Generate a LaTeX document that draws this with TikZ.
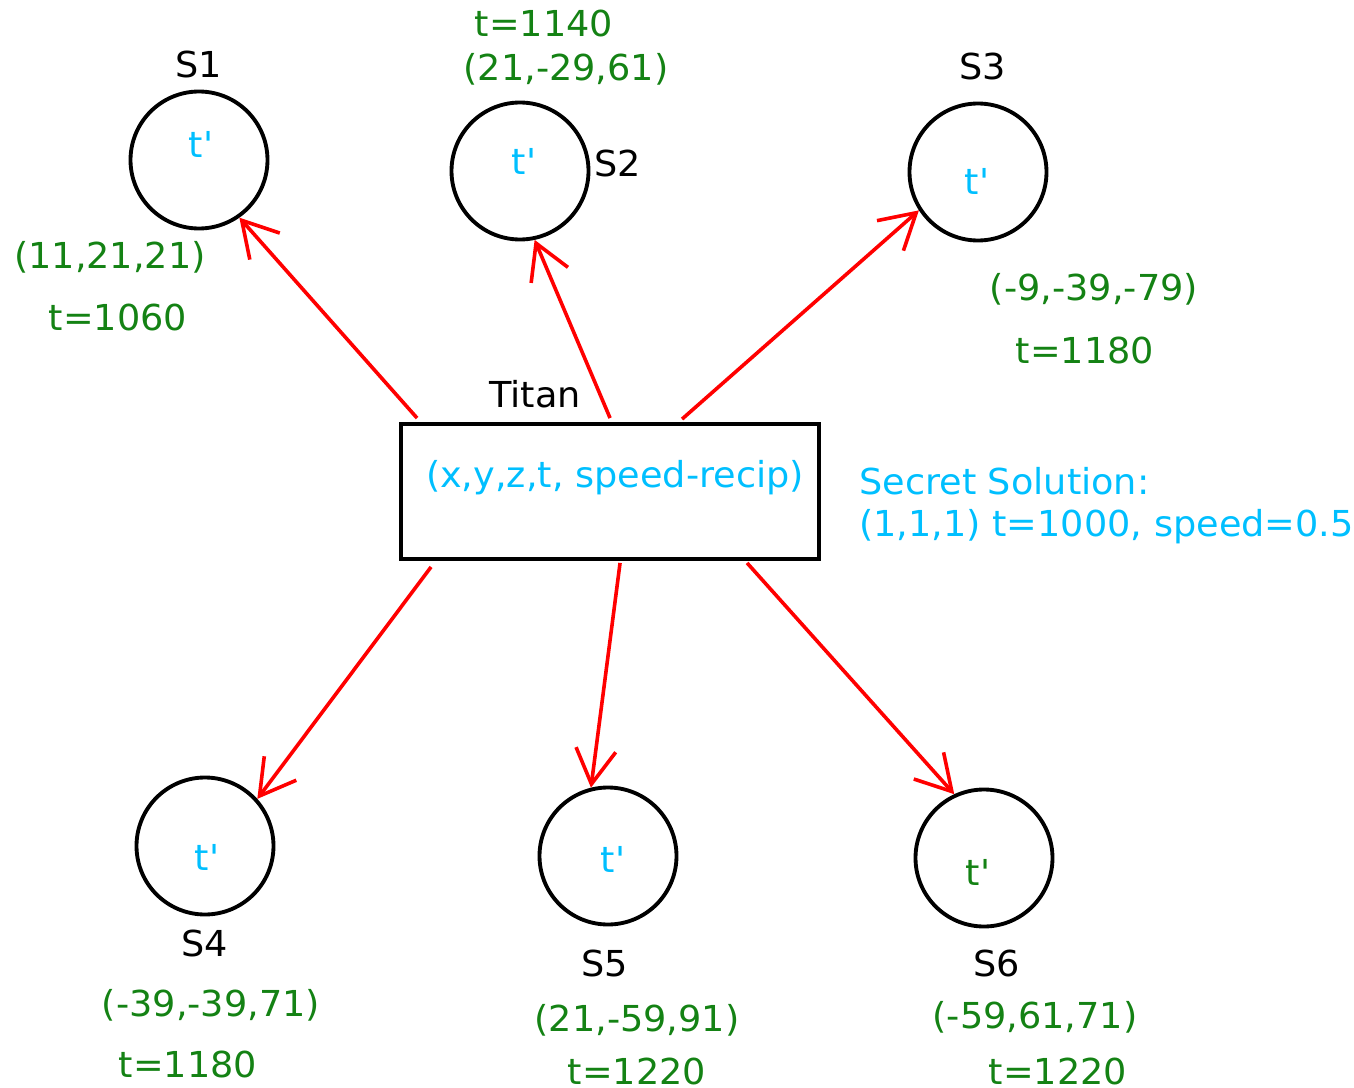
\documentclass[tikz,border=0pt]{standalone}
\usepackage{fontspec}
\setmainfont{DejaVu Sans}[FakeStretch=1.025]
\usetikzlibrary{arrows.meta,calc}
\definecolor{solgreen}{RGB}{20,130,20}
\definecolor{solcyan}{RGB}{0,191,255}
\newcommand{\tprime}{t\textquotesingle}
\tikzset{
  sat/.style={circle, draw=black, line width=2.9pt, minimum size=102.75pt, inner sep=0pt},
  box/.style={rectangle, draw=black, line width=2.9pt, minimum width=313.5pt, minimum height=101.25pt, inner sep=0pt},
  txt/.style={anchor=base, inner sep=0pt, font=\fontsize{26.8}{32}\selectfont},
  satlabel/.style={txt, text=black},
  coordtxt/.style={txt, text=solgreen},
  primetxt/.style={txt, text=solcyan},
  link/.style={draw=red, line width=2.7pt, -{Straight Barb[length=26pt, width=30pt, line join=miter]}}
}
\begin{document}
\begin{tikzpicture}[x=0.75pt, y=-0.75pt]
\useasboundingbox (0,0) rectangle (1354,1088);

% satellites
\node[sat] (s1) at (199,160) {};
\node[sat] (s2) at (520,171) {};
\node[sat] (s3) at (978,172) {};
\node[sat] (s4) at (205,846) {};
\node[sat] (s5) at (608,856) {};
\node[sat] (s6) at (984,858) {};

% Titan receiver box
\node[box] (titan) at (610,491.5) {};
\node[primetxt] (titantxt) at (615,487) {(x,y,z,t, speed-recip)};
\node[satlabel] (titanname) at (535,407) {Titan};

% satellite names
\node[satlabel] (n1) at (199,78) {S1};
\node[satlabel] (n2) at (618,176) {S2};
\node[satlabel] (n3) at (983,80) {S3};
\node[satlabel] (n4) at (205,956) {S4};
\node[satlabel] (n5) at (605,976) {S5};
\node[satlabel] (n6) at (997,976) {S6};

% received times
\node[primetxt] (p1) at (201,157) {\tprime};
\node[primetxt] (p2) at (524,174) {\tprime};
\node[primetxt] (p3) at (977,194) {\tprime};
\node[primetxt] (p4) at (207,870) {\tprime};
\node[primetxt] (p5) at (613,872) {\tprime};
\node[coordtxt] (p6) at (978,885) {\tprime};

% satellite positions and send times
\node[coordtxt] (c1) at (110,268) {(11,21,21)};
\node[coordtxt] (t1) at (118,330) {t=1060};
\node[coordtxt] (t2) at (544,37) {t=1140};
\node[coordtxt] (c2) at (566,81) {(21,-29,61)};
\node[coordtxt] (c3) at (1094,300) {(-9,-39,-79)};
\node[coordtxt] (t3) at (1085,363) {t=1180};
\node[coordtxt] (c4) at (211,1016) {(-39,-39,71)};
\node[coordtxt] (t4) at (188,1077) {t=1180};
\node[coordtxt] (c5) at (637,1031) {(21,-59,91)};
\node[coordtxt] (t5) at (637,1084) {t=1220};
\node[coordtxt] (c6) at (1035,1028) {(-59,61,71)};
\node[coordtxt] (t6) at (1058,1084) {t=1220};

% the hidden answer
\node[txt, anchor=base west, text=solcyan] (secret1) at (859,494) {Secret Solution:};
\node[txt, anchor=base west, text=solcyan] (secret2) at (859,536) {(1,1,1) t=1000, speed=0.5};

% link start points on the box edges
\coordinate (o1) at ($(titan.north west)+(18,-4)$);
\coordinate (o2) at ($(titan.north west)+(211,-4)$);
\coordinate (o3) at ($(titan.north west)+(283,-3)$);
\coordinate (o4) at ($(titan.south west)+(32,6)$);
\coordinate (o5) at ($(titan.south west)+(221,2)$);
\coordinate (o6) at ($(titan.south west)+(348,2)$);

% signal links
\draw[link] (o1) -- (s1.-55.5);
\draw[link] (o2) -- (s2.-78);
\draw[link] (o3) -- (s3.213.5);
\draw[link] (o4) -- (s4.42.8);
\draw[link] (o5) -- (s5.104);
\draw[link] (o6) -- (s6.115.6);
\end{tikzpicture}
\end{document}
